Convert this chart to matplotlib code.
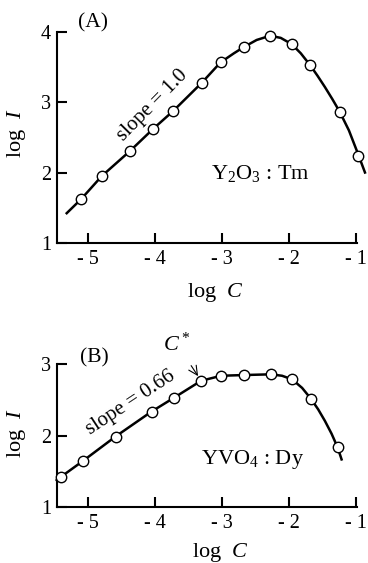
import matplotlib.pyplot as plt

plt.rcParams['font.family'] = ['Liberation Serif', 'DejaVu Serif']
plt.rcParams['mathtext.fontset'] = 'custom'
plt.rcParams['mathtext.rm'] = 'Liberation Serif'
plt.rcParams['mathtext.it'] = 'Liberation Serif:italic'

# (A) Y2O3:Tm  -- measured points and fitted curve (log C, log I)
a_logc = [-5.105, -4.795, -4.37, -4.03, -3.725, -3.30, -3.02, -2.67, -2.28, -1.955, -1.68, -1.24, -0.97]
a_logi = [1.62, 1.95, 2.31, 2.62, 2.88, 3.28, 3.57, 3.79, 3.95, 3.83, 3.53, 2.86, 2.24]
a_fit_x = [-5.32, -5.105, -4.795, -4.37, -4.03, -3.725, -3.30, -3.02, -2.82, -2.67, -2.48, -2.28,
           -2.12, -1.955, -1.82, -1.68, -1.57, -1.46, -1.35, -1.24, -1.10, -0.97, -0.86]
a_fit_y = [1.42, 1.62, 1.95, 2.31, 2.62, 2.88, 3.28, 3.57, 3.70, 3.79, 3.89, 3.95,
           3.92, 3.83, 3.70, 3.53, 3.38, 3.22, 3.05, 2.87, 2.60, 2.28, 2.00]

# (B) YVO4:Dy
b_logc = [-5.40, -5.075, -4.59, -4.05, -3.72, -3.31, -3.01, -2.67, -2.27, -1.95, -1.67, -1.27]
b_logi = [1.43, 1.65, 1.99, 2.34, 2.53, 2.77, 2.84, 2.85, 2.86, 2.79, 2.52, 1.84]
b_fit_x = [-5.47, -5.40, -5.075, -4.59, -4.05, -3.72, -3.31, -3.01, -2.67, -2.27, -2.10,
           -1.95, -1.80, -1.67, -1.56, -1.46, -1.36, -1.27, -1.21]
b_fit_y = [1.38, 1.43, 1.65, 1.99, 2.34, 2.53, 2.77, 2.84, 2.85, 2.86, 2.84,
           2.79, 2.67, 2.52, 2.37, 2.21, 2.03, 1.84, 1.67]
b_cstar = (-3.31, 2.77)

xticks = [-5, -4, -3, -2, -1]
a_yticks = [1, 2, 3, 4]
b_yticks = [1, 2, 3]

fig = plt.figure(figsize=(3.68, 5.63), dpi=100)
ax_a = fig.add_axes([0.154, 0.569, 0.816, 0.3737])
ax_b = fig.add_axes([0.154, 0.0989, 0.816, 0.254])


def style(ax, yticks):
    ax.set_xlim(-5.47, -0.98)
    ax.set_ylim(yticks[0], yticks[-1])
    for s in ['top', 'right']:
        ax.spines[s].set_visible(False)
    for s in ['left', 'bottom']:
        ax.spines[s].set_linewidth(1.5)
    ax.set_xticks(xticks)
    ax.set_xticklabels([f'- {abs(v)}' for v in xticks])
    ax.set_yticks(yticks)
    ax.tick_params(axis='both', direction='in', length=7, width=1.5, labelsize=14.5)
    ax.tick_params(axis='x', pad=5)
    ax.tick_params(axis='y', pad=4)


def draw(ax, fx, fy, px, py):
    ax.plot(fx, fy, color='black', lw=1.8, clip_on=False, zorder=2)
    ax.plot(px, py, 'o', ms=7.5, mfc='white', mec='black', mew=1.0,
            clip_on=False, zorder=3)


# panel A
style(ax_a, a_yticks)
draw(ax_a, a_fit_x, a_fit_y, a_logc, a_logi)
ax_a.text(0.121, 1.044, '(A)', transform=ax_a.transAxes, fontsize=15.5,
          ha='center', va='center')
ax_a.text(0.515, 0.331, r'Y$_2$O$_3$ : Tm', transform=ax_a.transAxes, fontsize=16,
          ha='left', va='center')
ax_a.text(0.32, 0.654, 'slope = 1.0', transform=ax_a.transAxes, fontsize=15,
          rotation=45.5, ha='center', va='center', rotation_mode='anchor')
ax_a.text(0.527, -0.239, r'log  $C$', transform=ax_a.transAxes, fontsize=16,
          ha='center', va='center')
ax_a.text(-0.135, 0.521, r'log  $I$', transform=ax_a.transAxes, fontsize=16,
          ha='center', va='center', rotation=90)

# panel B
style(ax_b, b_yticks)
draw(ax_b, b_fit_x, b_fit_y, b_logc, b_logi)
ax_b.text(0.126, 1.044, '(B)', transform=ax_b.transAxes, fontsize=15.5,
          ha='center', va='center')
ax_b.text(0.48, 0.331, r'YVO$_4$ : Dy', transform=ax_b.transAxes, fontsize=16,
          ha='left', va='center')
ax_b.text(0.247, 0.729, 'slope = 0.66', transform=ax_b.transAxes, fontsize=15,
          rotation=33.4, ha='center', va='center', rotation_mode='anchor')
ax_b.annotate(r'$C^*$', xy=b_cstar, xytext=(-3.67, 3.28), fontsize=16,
              ha='center', va='center', annotation_clip=False,
              arrowprops=dict(arrowstyle='->', lw=0.8, color='black',
                              shrinkA=6, shrinkB=4))
ax_b.text(0.544, -0.315, r'log  $C$', transform=ax_b.transAxes, fontsize=16,
          ha='center', va='center')
ax_b.text(-0.135, 0.52, r'log  $I$', transform=ax_b.transAxes, fontsize=16,
          ha='center', va='center', rotation=90)

fig.savefig('out.png', dpi=100)
